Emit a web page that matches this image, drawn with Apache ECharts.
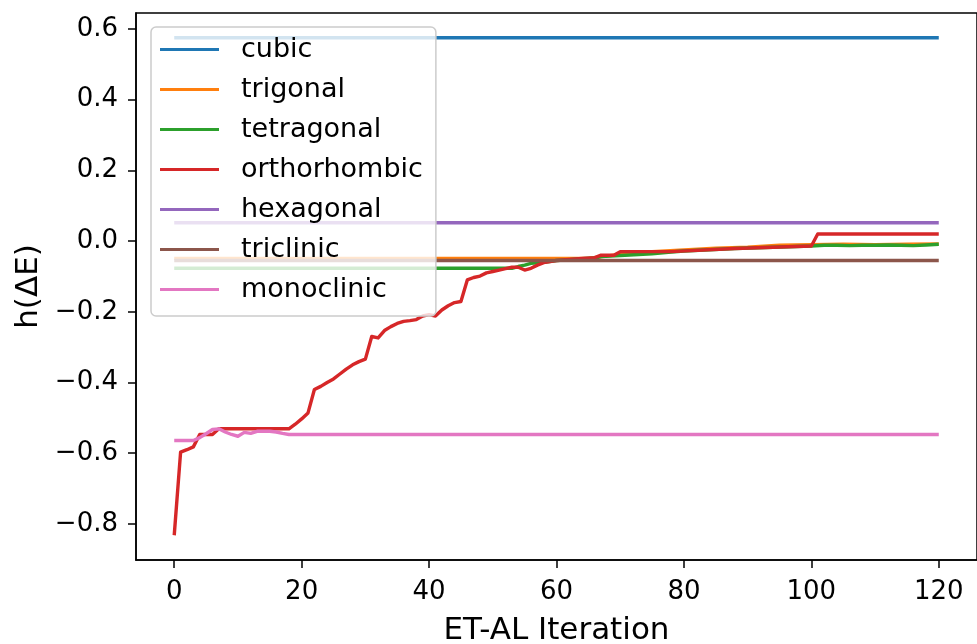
<!DOCTYPE html>
<html>
<head>
<meta charset="utf-8">
<script src="https://cdn.jsdelivr.net/npm/echarts@6/dist/echarts.min.js"></script>
<style>
html,body{margin:0;padding:0;background:#fff;}
#chart{width:977px;height:644px;}
</style>
</head>
<body>
<div id="chart"></div>
<script>
// ---- data ----
const seriesNames = ['cubic','trigonal','tetragonal','orthorhombic','hexagonal','triclinic','monoclinic'];
const seriesColors = ['#1f77b4','#ff7f0e','#2ca02c','#d62728','#9467bd','#8c564b','#e377c2'];

const cubicX = [0,120];
const cubicY = [0.575,0.575];

const trigonalX = [0,65,68,70,75,80,85,90,95,100,105,110,115,120];
const trigonalY = [-0.049,-0.049,-0.042,-0.038,-0.030,-0.025,-0.020,-0.017,-0.012,-0.010,-0.009,-0.010,-0.009,-0.008];

const tetragonalX = [0,53,54,55,56,58,60,62,64,66,67,70,75,78,80,88,100,102,104,106,108,110,112,114,116,118,120];
const tetragonalY = [-0.077,-0.077,-0.072,-0.068,-0.063,-0.060,-0.055,-0.053,-0.050,-0.048,-0.044,-0.041,-0.036,-0.031,-0.028,-0.021,-0.014,-0.012,-0.012,-0.013,-0.012,-0.012,-0.011,-0.012,-0.013,-0.011,-0.009];

const orthorhombicX = [0,1,2,3,4,6,7,18,19,20,21,22,23,24,25,26,27,28,29,30,31,32,33,34,35,36,37,38,39,40,41,42,43,44,45,46,47,48,49,50,51,52,53,54,55,56,57,58,59,60,62,64,66,67,69,70,78,88,100,101,120];
const orthorhombicY = [-0.832,-0.597,-0.590,-0.582,-0.547,-0.547,-0.531,-0.531,-0.518,-0.503,-0.486,-0.420,-0.411,-0.400,-0.390,-0.376,-0.362,-0.350,-0.341,-0.334,-0.270,-0.274,-0.253,-0.242,-0.233,-0.227,-0.225,-0.222,-0.212,-0.208,-0.212,-0.195,-0.183,-0.174,-0.171,-0.110,-0.103,-0.099,-0.090,-0.086,-0.082,-0.078,-0.074,-0.074,-0.082,-0.077,-0.068,-0.061,-0.058,-0.055,-0.052,-0.049,-0.047,-0.040,-0.040,-0.030,-0.030,-0.021,-0.014,0.020,0.020];

const hexagonalX = [0,120];
const hexagonalY = [0.052,0.052];

const triclinicX = [0,120];
const triclinicY = [-0.055,-0.055];

const monoclinicX = [0,3,4,5,6,7,8,9,10,11,12,13,15,16,17,18,120];
const monoclinicY = [-0.564,-0.564,-0.556,-0.545,-0.533,-0.531,-0.540,-0.547,-0.552,-0.541,-0.544,-0.538,-0.538,-0.540,-0.544,-0.547,-0.547];

const xTicks = [0,20,40,60,80,100,120];
const yTicks = [-0.8,-0.6,-0.4,-0.2,0.0,0.2,0.4,0.6];

const xName = 'ET-AL Iteration';
const yName = 'h(ΔE)';

// ---- build chart ----
const allX = [cubicX,trigonalX,tetragonalX,orthorhombicX,hexagonalX,triclinicX,monoclinicX];
const allY = [cubicY,trigonalY,tetragonalY,orthorhombicY,hexagonalY,triclinicY,monoclinicY];

function pairs(xs, ys){ return xs.map((x,i)=>[x, ys[i]]); }

const FONT = 'DejaVu Sans';
const chart = echarts.init(document.getElementById('chart'), null, {renderer:'canvas'});

const series = seriesNames.map((n,i)=>({
  name: n,
  type: 'line',
  data: pairs(allX[i], allY[i]),
  showSymbol: false,
  symbol: 'none',
  color: seriesColors[i],
  lineStyle: {color: seriesColors[i], width: 3.4, cap:'butt', join:'round'},
  itemStyle: {color: seriesColors[i]},
  emphasis: {disabled: true},
  animation: false,
  z: 2 + i*0.01
}));

const axisLineStyle = {color:'#000', width: 1.5};

chart.setOption({
  animation: false,
  backgroundColor: '#fff',
  grid: {
    left: 136, top: 13, width: 841, height: 547,
    show: true, borderColor: '#000', borderWidth: 1.5, backgroundColor: 'transparent',
    containLabel: false, outerBoundsMode: 'none'
  },
  legend: {
    orient: 'vertical',
    left: 151, top: 27,
    padding: [9, 13, 13, 9],
    itemGap: 13,
    itemWidth: 59,
    itemHeight: 3,
    icon: 'rect',
    backgroundColor: 'rgba(255,255,255,0.8)',
    borderColor: '#cccccc',
    borderWidth: 1.5,
    borderRadius: 5,
    z: 10,
    data: seriesNames.map((n,i)=>({name:n, icon:'rect', itemStyle:{color:seriesColors[i]}})),
    textStyle: {fontFamily: FONT, fontSize: 27, color: '#000', lineHeight: 27, padding: [0,0,0,17]},
    selectedMode: false
  },
  xAxis: {
    type: 'value',
    min: -6, max: 126,
    name: xName,
    nameLocation: 'middle',
    nameGap: 55,
    nameTextStyle: {fontFamily: FONT, fontSize: 31, color: '#000'},
    axisLine: {show: true, onZero: false, lineStyle: axisLineStyle},
    axisTick: {show: true, length: 8, lineStyle: axisLineStyle, customValues: xTicks},
    axisLabel: {fontFamily: FONT, fontSize: 26, color: '#000', margin: 19, customValues: xTicks,
      formatter: v => String(v)},
    splitLine: {show: false}
  },
  yAxis: {
    type: 'value',
    min: -0.902, max: 0.645,
    name: yName,
    nameLocation: 'middle',
    nameGap: 90,
    nameRotate: 90,
    nameTextStyle: {fontFamily: FONT, fontSize: 31, color: '#000'},
    axisLine: {show: true, onZero: false, lineStyle: axisLineStyle},
    axisTick: {show: true, length: 8, lineStyle: axisLineStyle, customValues: yTicks},
    axisLabel: {fontFamily: FONT, fontSize: 26, color: '#000', margin: 18, customValues: yTicks,
      formatter: v => { const s = Number(v).toFixed(1); return s.replace('-', '\u2212'); }},
    splitLine: {show: false}
  },
  series: series
});
</script>
</body>
</html>
